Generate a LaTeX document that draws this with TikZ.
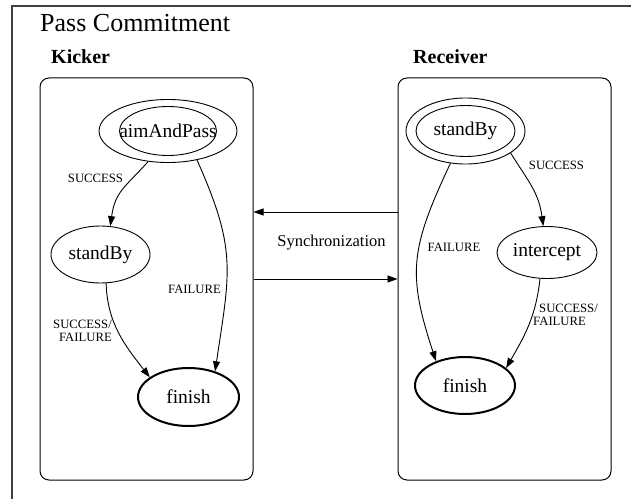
\documentclass[tikz,border=0pt]{standalone}
\usepackage{fontspec}
\setmainfont{Liberation Serif}
\usetikzlibrary{arrows.meta,shapes.geometric}
\begin{document}
\begin{tikzpicture}[x=1pt,y=1pt,
  state/.style={ellipse,draw,line width=0.9pt,inner sep=0pt,font=\fontsize{19.5}{22}\selectfont},
  final/.style={state,line width=2pt},
  box/.style={draw,line width=1pt,rounded corners=9pt,inner sep=0pt,minimum width=213pt,minimum height=402pt},
  lbl/.style={font=\fontsize{12.7}{13}\selectfont,inner sep=0pt},
  edge/.style={line width=0.9pt,-{Triangle[length=10pt,width=7pt]}},
  ttl/.style={anchor=base west,inner sep=0pt}]
\useasboundingbox (0,0) rectangle (631,499);
% outer frame
\draw[line width=1.2pt,black!75] (12,0) -- (12,493) -- (631,493);
\node[ttl,font=\fontsize{26}{28}\selectfont] (title) at (40,467) {Pass Commitment};
\node[ttl,font=\fontsize{20}{22}\selectfont\bfseries] (kt) at (51,435) {Kicker};
\node[ttl,font=\fontsize{20}{22}\selectfont\bfseries] (rt) at (413,435) {Receiver};
% boxes
\node[box] (kbox) at (146.5,220) {};
\node[box] (rbox) at (504.5,220) {};
% kicker states
\node[state,minimum width=112pt,minimum height=63pt] (aim) at (168,368) {aimAndPass};
\draw[line width=0.9pt] (aim.center) ellipse [x radius=48.5,y radius=24.5];
\node[state,minimum width=99pt,minimum height=57pt] (sb1) at (100.5,244.5) {standBy};
\node[final,minimum width=101pt,minimum height=58pt] (fin1) at (188.5,102) {finish};
% receiver states
\node[state,minimum width=119pt,minimum height=66pt] (sb2) at (465.5,368) {standBy};
\draw[line width=0.9pt] (sb2.center) ellipse [x radius=49.5,y radius=25.5];
\node[state,minimum width=100pt,minimum height=52pt] (int) at (547,246.5) {intercept};
\node[final,minimum width=100pt,minimum height=57pt] (fin2) at (465,113.5) {finish};
% kicker edges
\draw[edge] (aim.237) to[out=228,in=82,looseness=1.2] (sb1.71);
\draw[edge] (aim.315) .. controls +(40,-90) and +(15,101) .. (fin1.44);
\draw[edge] (sb1.281) to[out=272,in=128] (fin1.153);
\node[lbl] (l1) at (95.5,321) {SUCCESS};
\node[lbl] (l2) at (194.5,210) {FAILURE};
\node[lbl,align=right,anchor=east] (l3) at (112,168) {SUCCESS/\\FAILURE};
% receiver edges
\draw[edge] (sb2.245) .. controls +(-40,-85) and +(-29,88) .. (fin2.140);
\draw[edge] (sb2.334) to[out=302,in=98,looseness=1.1] (int.98);
\draw[edge] (int.255) to[out=264,in=60] (fin2.23);
\node[lbl] (l4) at (454,252) {FAILURE};
\node[lbl] (l5) at (556.5,334) {SUCCESS};
\node[lbl,align=left,anchor=west] (l6) at (533,184) {\hspace*{6pt}SUCCESS/\\FAILURE};
% synchronization
\draw[edge] ([yshift=67pt]rbox.west) -- ([yshift=67pt]kbox.east);
\draw[edge] (kbox.east) -- (rbox.west);
\node[font=\fontsize{16.5}{18}\selectfont,inner sep=0pt] (sync) at (331.5,256) {Synchronization};
\end{tikzpicture}
\end{document}
